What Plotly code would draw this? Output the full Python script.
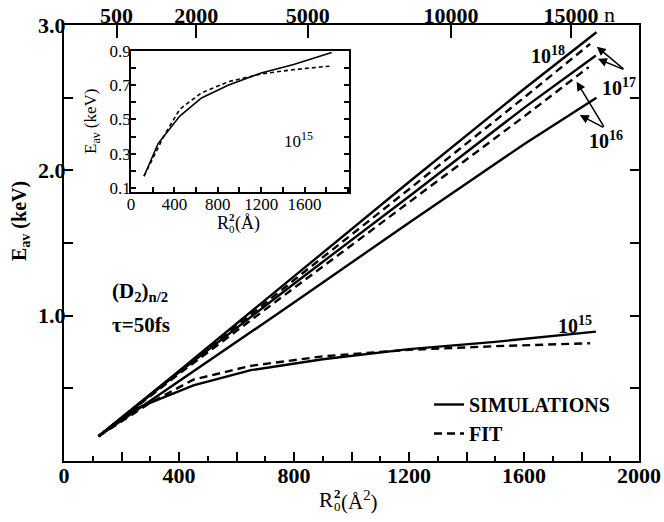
import plotly.graph_objects as go

# ---------------- data ----------------
x_sim18 = [120, 400, 800, 1200, 1600, 1852]
y_sim18 = [0.17, 0.62, 1.27, 1.92, 2.56, 2.95]
x_sim17 = [120, 400, 800, 1200, 1600, 1850]
y_sim17 = [0.17, 0.61, 1.22, 1.82, 2.43, 2.79]
x_sim16 = [120, 400, 800, 1200, 1600, 1852]
y_sim16 = [0.17, 0.55, 1.09, 1.64, 2.18, 2.50]
x_fitA = [120, 400, 800, 1200, 1600, 1830]
y_fitA = [0.17, 0.615, 1.245, 1.87, 2.50, 2.87]
x_fitB = [120, 400, 800, 1200, 1600, 1825]
y_fitB = [0.17, 0.60, 1.19, 1.78, 2.37, 2.71]
x_sim15 = [120, 250, 450, 650, 900, 1200, 1500, 1850]
y_sim15 = [0.17, 0.36, 0.52, 0.625, 0.70, 0.77, 0.82, 0.89]
x_fit15 = [120, 300, 450, 650, 900, 1200, 1500, 1830]
y_fit15 = [0.17, 0.40, 0.56, 0.655, 0.72, 0.765, 0.79, 0.81]

n_ticks = [500, 2000, 5000, 10000, 15000]
n_to_r2 = 2.9  # R0^2 = 2.9 * n^(2/3)
x_main_ticklabels = [0, 400, 800, 1200, 1600, 2000]
y_main_ticklabels = [1.0, 2.0, 3.0]
x_inset_ticklabels = [0, 400, 800, 1200, 1600]
y_inset_ticklabels = [0.1, 0.3, 0.5, 0.7, 0.9]

FONT = "Liberation Serif"
W, H = 664, 522
L, R, T, B = 64, 25, 25, 61
PW, PH = W - L - R, H - T - B


def px(xp):
    return (xp - L) / PW


def py(yp):
    return (H - B - yp) / PH


fig = go.Figure()
solid = dict(color="black", width=2.4)
dashed = dict(color="black", width=2.4, dash="8px,5px")

for xs, ys, ln, nm, sl in [
    (x_sim18, y_sim18, solid, "SIMULATIONS", True),
    (x_sim17, y_sim17, solid, "s17", False),
    (x_sim16, y_sim16, solid, "s16", False),
    (x_sim15, y_sim15, solid, "s15", False),
    (x_fitA, y_fitA, dashed, "FIT", True),
    (x_fitB, y_fitB, dashed, "fB", False),
    (x_fit15, y_fit15, dashed, "f15", False),
]:
    fig.add_trace(go.Scatter(x=xs, y=ys, mode="lines", line=ln, name=nm,
                             showlegend=sl, xaxis="x", yaxis="y"))

# invisible trace for the top n axis
fig.add_trace(go.Scatter(x=[0, 2000], y=[0, 0], mode="lines", line=dict(width=0),
                         showlegend=False, xaxis="x2", yaxis="y", hoverinfo="skip"))

# inset
fig.add_trace(go.Scatter(x=x_sim15, y=y_sim15, mode="lines",
                         line=dict(color="black", width=1.6), showlegend=False,
                         xaxis="x3", yaxis="y3"))
fig.add_trace(go.Scatter(x=x_fit15, y=y_fit15, mode="lines",
                         line=dict(color="black", width=1.6, dash="4px,3px"),
                         showlegend=False, xaxis="x3", yaxis="y3"))

xt = list(range(0, 2001, 200))
xtt = [str(v) if v in x_main_ticklabels else "" for v in xt]
yt = [0, 0.5, 1.0, 1.5, 2.0, 2.5, 3.0]
ytt = [f"{v:.1f}" if v in y_main_ticklabels else "" for v in yt]

axis_common = dict(showgrid=False, zeroline=False, linecolor="black", linewidth=2,
                   ticks="inside", tickcolor="black", tickwidth=2, automargin=False)

fig.update_layout(
    width=W, height=H, margin=dict(l=L, r=R, t=T, b=B),
    paper_bgcolor="white", plot_bgcolor="white",
    font=dict(family=FONT, color="black", size=20),
    xaxis=dict(**axis_common, range=[0, 2000], tickvals=xt, ticktext=xtt, ticklen=9,
               mirror=True, ticklabelstandoff=-6,
               minor=dict(dtick=100, ticks="inside", ticklen=5, tickcolor="black", tickwidth=2),
               tickfont=dict(family=FONT, size=22, weight="bold")),
    xaxis2=dict(**axis_common, overlaying="x", side="top", range=[0, 2000],
                tickvals=[n_to_r2 * n ** (2 / 3) for n in n_ticks],
                ticktext=[str(n) for n in n_ticks], ticklen=13, ticklabelstandoff=-9,
                tickfont=dict(family=FONT, size=22, weight="bold")),
    yaxis=dict(**axis_common, range=[0, 3], tickvals=yt, ticktext=ytt, ticklen=9,
               mirror="ticks", ticklabelstandoff=-8,
               tickfont=dict(family=FONT, size=22, weight="bold")),
    xaxis3=dict(**axis_common, domain=[px(131), px(349)], anchor="y3", range=[0, 2010],
                tickvals=x_inset_ticklabels, ticktext=[str(v) for v in x_inset_ticklabels],
                ticklen=5, mirror=True, ticklabelstandoff=-4,
                minor=dict(dtick=200, ticks="inside", ticklen=5, tickcolor="black", tickwidth=1.5),
                tickfont=dict(family=FONT, size=17)),
    yaxis3=dict(**axis_common, domain=[py(191.7), py(50.7)], anchor="x3", range=[0.08, 0.9],
                tickvals=y_inset_ticklabels, ticktext=[f"{v:.1f}" for v in y_inset_ticklabels],
                ticklen=5, mirror="ticks", ticklabelstandoff=-5,
                minor=dict(dtick=0.1, ticks="inside", ticklen=5, tickcolor="black", tickwidth=1.5),
                tickfont=dict(family=FONT, size=17)),
    legend=dict(x=px(429), y=py(385), xanchor="left", yanchor="top",
                bgcolor="rgba(0,0,0,0)", font=dict(family=FONT, size=20, weight="bold"),
                tracegroupgap=0, itemwidth=30),
)
fig.update_layout(xaxis3_linewidth=1.8, yaxis3_linewidth=1.8, xaxis3_tickwidth=1.5,
                  yaxis3_tickwidth=1.5)


def ann(text, xp, yp, size=20, bold=True, angle=0, xanchor="center", yanchor="middle"):
    fig.add_annotation(text=text, x=px(xp), y=py(yp), xref="paper", yref="paper",
                       showarrow=False, textangle=angle, xanchor=xanchor, yanchor=yanchor,
                       borderpad=0,
                       font=dict(family=FONT, size=size, color="black",
                                 weight="bold" if bold else "normal"))


# axis titles
ann("E<sub>av</sub> (keV)", 20, 221, size=20, angle=-90)
# main x title R0^2(Å^2) with stacked sub/sup
ann("R", 334, 500, size=21, bold=False, xanchor="right")
ann("2", 333, 493, size=13, bold=True, xanchor="left")
ann("0", 333, 507, size=13, bold=False, xanchor="left")
ann("(Å<sup>2</sup>)", 340, 500, size=21, bold=False, xanchor="left")
# inset titles
ann("E<sub>av</sub> (keV)", 92, 121, size=17, bold=False, angle=-90)
ann("R", 230, 223, size=18, bold=False, xanchor="right")
ann("2", 228, 217, size=11, bold=True, xanchor="left")
ann("0", 228, 229, size=11, bold=False, xanchor="left")
ann("(Å)", 234, 223, size=18, bold=False, xanchor="left")
ann("n", 609, 14, size=22, bold=False)

# text labels
ann("(D<sub>2</sub>)<sub>n/2</sub>", 140, 292, size=21)
ann("τ=50fs", 141, 325, size=21)
ann("10<sup>18</sup>", 548, 55)
ann("10<sup>17</sup>", 619, 87)
ann("10<sup>16</sup>", 606, 140)
ann("10<sup>15</sup>", 575, 325)
ann("10<sup>15</sup>", 298, 140, size=17, bold=False)

# arrows (tip, tail) in data coordinates
arrows = [((1853, 2.851), (1951, 2.69)), ((1857, 2.767), (1951, 2.69)),
          ((1783, 2.61), (1881, 2.29)), ((1794, 2.381), (1881, 2.29))]
for (tx, ty), (sx, sy) in arrows:
    fig.add_annotation(x=tx, y=ty, ax=sx, ay=sy, xref="x", yref="y", axref="x", ayref="y",
                       text="", showarrow=True, arrowhead=2, arrowsize=1.2, arrowwidth=1.5,
                       arrowcolor="black")

fig.write_html("out.html", config={"displayModeBar": False},
               post_script="document.body.style.margin='0';document.body.style.padding='0';")
